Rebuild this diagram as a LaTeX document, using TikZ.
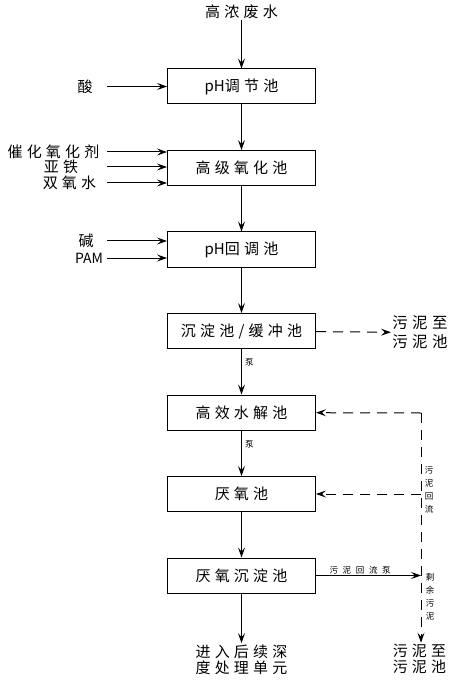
\documentclass[tikz,border=0pt]{standalone}
\usepackage{fontspec}
\setmainfont{Noto Sans CJK SC}
\newfontfamily\plaincjk{Noto Sans CJK SC}
\newfontfamily\widecjk[LetterSpace=28]{Noto Sans CJK SC}
\newfontfamily\widesmall[LetterSpace=55]{Noto Sans CJK SC}
\usetikzlibrary{arrows.meta}

\begin{document}
\begin{tikzpicture}[x=1pt,y=1pt,->,>={Stealth[length=10pt,width=7pt,inset=4pt]},
  line width=1pt,node distance=81.5pt,
  pool/.style={draw,->,minimum width=148pt,minimum height=35pt,inner sep=0pt,font=\widecjk\fontsize{15}{17}\selectfont},
  dose/.style={font=\widecjk\fontsize{15}{16}\selectfont,inner sep=1pt},
  smalltext/.style={font=\fontsize{8.5}{13}\selectfont,inner sep=1pt},
  dashline/.style={dash pattern=on 10pt off 7pt}]

  \useasboundingbox (0,0) rectangle (450,-684);

  % treatment line
  \node[pool] (tiaojie) at (241.5,-86.5) {{\plaincjk pH}调节池};
  \node[pool] (yanghua) [below of=tiaojie] {高级氧化池};
  \node[pool] (huitiao) [below of=yanghua] {{\plaincjk pH}回调池};
  \node[pool] (chendian) [below of=huitiao] {沉淀池/缓冲池};
  \node[pool] (shuijie) [below of=chendian] {高效水解池};
  \node[pool] (yanyang) [below of=shuijie] {厌氧池};
  \node[pool] (chenyan) [below of=yanyang] {厌氧沉淀池};

  \node[dose] (feishui) [above of=tiaojie,node distance=74.5pt] {高浓废水};
  \node[dose,align=center] (houxu) [below of=chenyan,node distance=84pt] {进入后续深\\度处理单元};

  \path
    (feishui) edge (tiaojie)
    (tiaojie) edge (yanghua)
    (yanghua) edge (huitiao)
    (huitiao) edge (chendian)
    (chendian) edge node[smalltext,right,pos=0.3,xshift=2pt] {泵} (shuijie)
    (shuijie) edge node[smalltext,right,pos=0.3,xshift=2pt] {泵} (yanyang)
    (yanyang) edge (chenyan)
    (chenyan) edge (houxu);

  % dosing
  \coordinate (dosein) at (107,0);
  \node[dose] (suan) at (85,-86.5) {酸};
  \node[dose] (cuihua) at (53.5,-152) {催化氧化剂};
  \node[dose] (yatie) at (61,-167) {亚铁};
  \node[dose] (shuangyang) at (69.5,-183) {双氧水};
  \node[dose] (jian) at (86,-241) {碱};
  \node[dose,font=\plaincjk\fontsize{14}{16}\selectfont] (pam) at (89,-258) {PAM};

  \draw (dosein |- suan) -- (suan -| tiaojie.west);
  \draw (dosein |- cuihua) -- (cuihua -| yanghua.west);
  \draw (dosein |- yatie) -- (yatie -| yanghua.west);
  \draw (dosein |- shuangyang) -- (shuangyang -| yanghua.west);
  \draw (dosein |- jian) -- (jian -| huitiao.west);
  \draw (dosein |- pam) -- (pam -| huitiao.west);

  % sludge
  \node[dose,align=center,font=\widecjk\fontsize{15.5}{19}\selectfont] (wuni1) at (420,-332.5) {污泥至\\污泥池};
  \node[dose,align=center] (wuni2) at (419.5,-659) {污泥至\\污泥池};
  \coordinate (huiliu) at (421,-413);

  \draw[dashline] (chendian) -- (wuni1);
  \draw[dashline] (huiliu) -- (shuijie);
  \draw[dashline] (huiliu |- yanyang) -- (yanyang);
  \draw[dashline] (huiliu) -- (huiliu |- wuni2.north);
  \draw (chenyan) -- node[smalltext,font=\widesmall\fontsize{8.5}{13}\selectfont,above,pos=0.42] {污泥回流泵} (chenyan -| huiliu);

  \node[smalltext,align=center,text width=9pt] (huiliutext) at (429,-489.5) {污\\泥\\回\\流};
  \node[smalltext,align=center,text width=9pt] (shengyu) at (430,-597) {剩\\余\\污\\泥};
\end{tikzpicture}
\end{document}
